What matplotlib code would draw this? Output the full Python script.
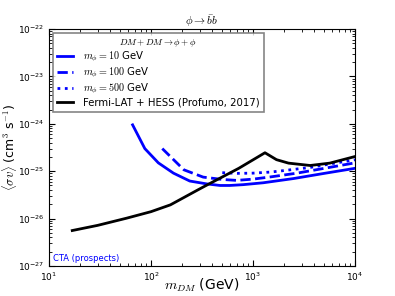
import matplotlib
matplotlib.use('Agg')
import matplotlib.pyplot as plt
from matplotlib.ticker import FuncFormatter
import numpy as np

plt.rcParams['mathtext.fontset'] = 'cm'

# m_phi = 10 GeV
m10 = [66, 87, 118, 166, 240, 351, 475, 590, 800, 1260, 2500, 5000, 10000]
sv10 = [9.5e-25, 3.0e-25, 1.5e-25, 9.1e-26, 6.2e-26, 5.4e-26, 5.0e-26, 5.0e-26, 5.2e-26, 5.7e-26, 7.0e-26, 9.0e-26, 1.15e-25]

# m_phi = 100 GeV
m100 = [129, 210, 325, 500, 690, 1000, 1500, 2700, 5000, 10000]
sv100 = [3.0e-25, 1.07e-25, 7.5e-26, 6.7e-26, 6.4e-26, 6.8e-26, 7.6e-26, 9.1e-26, 1.15e-25, 1.5e-25]

# m_phi = 500 GeV
m500 = [500, 700, 1000, 1500, 2000, 3630, 6000, 10000]
sv500 = [9.3e-26, 9.0e-26, 9.1e-26, 9.6e-26, 1.03e-25, 1.2e-25, 1.45e-25, 1.74e-25]

# Fermi-LAT + HESS (Profumo, 2017)
mfl = [16.9, 30, 57.6, 100, 155, 286, 353, 725, 1310, 1700, 2230, 3630, 5660, 10000]
svfl = [5.6e-27, 7.2e-27, 1.02e-26, 1.4e-26, 1.95e-26, 4.0e-26, 5.1e-26, 1.15e-25, 2.45e-25, 1.75e-25, 1.48e-25, 1.32e-25, 1.48e-25, 2.04e-25]

fig = plt.figure(figsize=(3.95, 2.96), dpi=100)
ax = fig.add_axes([49 / 395, 30 / 296, 306 / 395, 237 / 296])

ax.plot(m10, sv10, color='blue', lw=2, ls='-', label=r'$m_{\phi}=10$ GeV')
ax.plot(m100, sv100, color='blue', lw=2, ls='--', label=r'$m_{\phi}=100$ GeV')
ax.plot(m500, sv500, color='blue', lw=2, ls=':', label=r'$m_{\phi}=500$ GeV')
ax.plot(mfl, svfl, color='black', lw=2, ls='-', label='Fermi-LAT + HESS (Profumo, 2017)')

ax.set_xscale('log')
ax.set_yscale('log')
ax.set_xlim(10, 1e4)
ax.set_ylim(1e-27, 1e-22)

fmt = FuncFormatter(lambda v, p: r'$\mathregular{10^{%d}}$' % int(round(np.log10(v))))
ax.xaxis.set_major_formatter(fmt)
ax.yaxis.set_major_formatter(fmt)
ax.tick_params(which='both', direction='in', top=True, right=True, labelsize=6.5)
ax.tick_params(which='major', length=4)
ax.tick_params(which='minor', length=2)

ax.set_xlabel(r'$m_{DM}$ (GeV)', fontsize=10)
ax.xaxis.set_label_coords(0.5, -0.046)
ax.set_ylabel(r'$\langle\sigma v\rangle$ (cm$^3$ s$^{-1}$)', fontsize=9)
ax.yaxis.set_label_coords(-0.097, 0.5)
ax.set_title(r'$\phi\rightarrow\bar{b}b$', fontsize=8, pad=1)

ax.text(0.012, 0.02, 'CTA (prospects)', color='blue', fontsize=6, transform=ax.transAxes)

leg = ax.legend(loc='upper left', fontsize=7.3, title=r'$DM+DM\rightarrow\phi+\phi$',
                title_fontsize=6.5, fancybox=False, edgecolor='0.4', handlelength=1.6,
                handletextpad=1.0, borderaxespad=0.35, labelspacing=0.15)
leg.get_frame().set_linewidth(1.2)

fig.savefig('out.png', dpi=100)
